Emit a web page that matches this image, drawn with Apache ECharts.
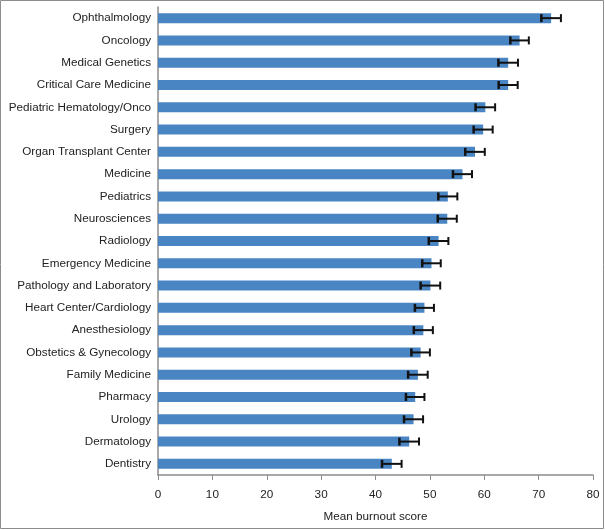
<!DOCTYPE html>
<html>
<head>
<meta charset="utf-8">
<script src="https://cdn.jsdelivr.net/npm/echarts@6/dist/echarts.min.js"></script>
<style>
html,body{margin:0;padding:0;background:#fff;}
#chart{width:605px;height:530px;}
</style>
</head>
<body>
<div id="chart"></div>
<script>
var categories = ["Ophthalmology","Oncology","Medical Genetics","Critical Care Medicine","Pediatric Hematology/Onco","Surgery","Organ Transplant Center","Medicine","Pediatrics","Neurosciences","Radiology","Emergency Medicine","Pathology and Laboratory","Heart Center/Cardiology","Anesthesiology","Obstetics & Gynecology","Family Medicine","Pharmacy","Urology","Dermatology","Dentistry"];
var means = [72.3,66.5,64.4,64.4,60.2,59.8,58.3,56.0,53.3,53.2,51.6,50.3,50.1,49.0,48.8,48.3,47.8,47.3,47.0,46.2,43.0];
var errors = [1.8,1.7,1.8,1.75,1.8,1.75,1.8,1.75,1.75,1.75,1.8,1.7,1.8,1.75,1.75,1.7,1.8,1.7,1.75,1.8,1.8];
var xTicks = [0,10,20,30,40,50,60,70,80];

var errData = means.map(function(m,i){ return [i, m - errors[i], m + errors[i]]; });

var chart = echarts.init(document.getElementById('chart'));
chart.setOption({
  animation:false,
  backgroundColor:'#fff',
  graphic:[{type:'rect',shape:{x:0.5,y:0.5,width:603,height:528},style:{fill:'none',stroke:'#8c8c8c',lineWidth:1},silent:true}],
  grid:{left:158,right:12,top:7,bottom:55,containLabel:false},
  xAxis:{
    type:'value',min:0,max:80,interval:10,
    name:'Mean burnout score',nameLocation:'middle',nameGap:36,
    nameTextStyle:{fontFamily:'Liberation Sans',fontSize:11.7,color:'#222'},
    axisLine:{show:true,lineStyle:{color:'#8c8c8c',width:1.5}},
    axisTick:{show:true,length:5,lineStyle:{color:'#8c8c8c'}},
    splitLine:{show:false},
    axisLabel:{fontFamily:'Liberation Sans',fontSize:11.7,color:'#222',margin:14,
      formatter:function(v){return xTicks.indexOf(v)>=0?String(v):'';}}
  },
  yAxis:{
    type:'category',data:categories,inverse:true,
    axisLine:{show:true,lineStyle:{color:'#8c8c8c',width:1.5}},
    axisTick:{show:false},
    axisLabel:{fontFamily:'Liberation Sans',fontSize:11.7,color:'#222',margin:7}
  },
  series:[
    {type:'bar',data:means,barWidth:10,itemStyle:{color:'#4a85c3'}},
    {type:'custom',data:errData,z:5,
      renderItem:function(params,api){
        var idx=api.value(0);
        var p1=api.coord([api.value(1),idx]);
        var p2=api.coord([api.value(2),idx]);
        var h=4;
        var st={stroke:'#111',lineWidth:2};
        return {type:'group',children:[
          {type:'line',shape:{x1:p1[0],y1:p1[1],x2:p2[0],y2:p2[1]},style:st},
          {type:'line',shape:{x1:p1[0],y1:p1[1]-h,x2:p1[0],y2:p1[1]+h},style:{stroke:'#111',lineWidth:2.5}},
          {type:'line',shape:{x1:p2[0],y1:p2[1]-h,x2:p2[0],y2:p2[1]+h},style:st}
        ]};
      },
      encode:{x:[1,2],y:0}
    }
  ]
});
</script>
</body>
</html>
